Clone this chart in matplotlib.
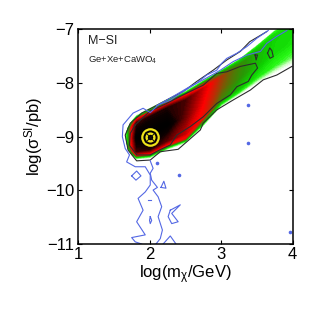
import numpy as np
import matplotlib
matplotlib.use("Agg")
import matplotlib.pyplot as plt
from matplotlib.colors import LinearSegmentedColormap

plt.rcParams['font.family'] = ['Liberation Sans', 'DejaVu Sans']
plt.rcParams['mathtext.fontset'] = 'custom'
plt.rcParams['mathtext.rm'] = 'Liberation Sans'
plt.rcParams['mathtext.it'] = 'Liberation Sans'
plt.rcParams['mathtext.default'] = 'regular'

# density band: stations along the mass axis, edges, relative density across the band
station_x = [1.66, 1.70, 1.75, 1.82, 2.0, 2.25, 2.5, 2.75, 3.0, 3.25, 3.5, 3.75, 4.0]
band_upper = [-8.97, -8.82, -8.71, -8.60, -8.47, -8.30, -8.15, -7.95, -7.76, -7.56, -7.30, -7.02, -6.80]
band_lower = [-9.00, -9.24, -9.34, -9.42, -9.40, -9.24, -9.12, -8.80, -8.43, -8.22, -8.00, -7.82, -7.64]
across = [0, .04, .09, .18, .5, .82, .91, .96, 1]
density = [
    [0, 0, 0, 0, 0, 0, 0, 0, 0],
    [0, .10, .20, .25, .25, .25, .20, .10, 0],
    [0, .14, .35, .60, .66, .60, .35, .14, 0],
    [0, .16, .58, .86, 1, .86, .58, .16, 0],
    [0, .16, .60, .90, 1, .90, .62, .16, 0],
    [0, .16, .60, .82, 1, .90, .62, .18, 0],
    [0, .14, .56, .68, .80, .85, .62, .18, 0],
    [0, .12, .30, .58, .62, .68, .50, .18, 0],
    [0, .10, .20, .36, .46, .50, .34, .18, 0],
    [0, .06, .16, .25, .34, .36, .26, .17, 0],
    [0, .04, .10, .18, .26, .27, .22, .16, 0],
    [0, .02, .06, .14, .20, .21, .19, .15, 0],
    [0, .02, .05, .12, .19, .20, .18, .14, 0],
]

outer_x = [3.64, 3.40, 3.27, 3.08, 2.89, 2.66, 2.47, 2.29, 2.05, 1.89, 1.73, 1.66, 1.70, 1.82, 2.01, 2.15, 2.40, 2.71, 2.75, 2.94, 3.17, 3.41, 3.59, 3.78, 3.99]
outer_y = [-7.04, -7.23, -7.41, -7.57, -7.76, -7.97, -8.16, -8.28, -8.45, -8.56, -8.75, -8.97, -9.25, -9.45, -9.435, -9.28, -9.235, -8.875, -8.75, -8.50, -8.315, -8.13, -7.94, -7.85, -7.69]
inner_x = [1.80, 2.00, 2.24, 2.47, 2.75, 2.94, 3.08, 3.27, 3.48, 3.51, 3.43, 3.38, 3.22, 3.13, 2.94, 2.75, 2.57, 2.38, 2.29, 2.15, 2.01, 1.82, 1.72, 1.73, 1.80]
inner_y = [-8.78, -8.53, -8.38, -8.22, -8.04, -7.82, -7.79, -7.69, -7.63, -7.72, -7.85, -7.97, -8.07, -8.22, -8.38, -8.63, -8.81, -8.97, -9.155, -9.24, -9.34, -9.34, -9.16, -8.94, -8.78]
isle1_x = [3.65, 3.68, 3.71, 3.73, 3.685, 3.65]
isle1_y = [-7.445, -7.345, -7.395, -7.507, -7.538, -7.445]
isle2_x = [3.475, 3.51, 3.49, 3.475]
isle2_y = [-7.476, -7.476, -7.57, -7.476]

blue_left_x = [3.66, 3.50, 3.36, 3.22, 3.08, 3.01, 2.94, 2.80, 2.66, 2.47, 2.29, 2.12, 2.01, 1.91, 1.77, 1.63, 1.62, 1.66, 1.72, 1.68, 1.80, 1.94, 2.01, 2.01, 1.94, 1.84, 1.91, 1.82, 1.94, 1.75, 1.80, 1.89]
blue_left_y = [-7.02, -7.165, -7.32, -7.445, -7.54, -7.63, -7.76, -7.85, -8.00, -8.16, -8.32, -8.41, -8.55, -8.47, -8.56, -8.78, -9.0, -9.22, -9.34, -9.47, -9.56, -9.56, -9.715, -9.90, -10.03, -10.15, -10.37, -10.585, -10.83, -10.88, -10.96, -11.0]
blue_right_x = [2.09, 2.15, 2.18, 2.12, 2.17, 2.12, 2.05, 2.11, 2.03, 2.01, 2.05, 2.01]
blue_right_y = [-11.0, -10.90, -10.74, -10.49, -10.305, -10.12, -9.995, -9.945, -9.81, -9.68, -9.59, -9.45]
blue_top_x = [3.92, 3.78, 3.64, 3.55, 3.36, 3.17, 2.99, 2.75, 2.52, 2.29, 2.10]
blue_top_y = [-7.02, -7.13, -7.26, -7.41, -7.48, -7.60, -7.76, -7.94, -8.10, -8.28, -8.42]
blue_lobe_x = [2.19, 2.29, 2.37]
blue_lobe_y = [-11.0, -10.85, -11.0]
blue_diamond_x = [1.75, 1.82, 1.88, 1.81, 1.75]
blue_diamond_y = [-9.73, -9.64, -9.73, -9.81, -9.73]
blue_tri_x = [2.16, 2.20, 2.23, 2.16]
blue_tri_y = [-9.945, -9.83, -9.96, -9.945]
blue_shape_x = [2.29, 2.43, 2.31, 2.40, 2.31, 2.26, 2.29]
blue_shape_y = [-10.37, -10.27, -10.43, -10.585, -10.62, -10.49, -10.37]
blue_sliver_x = [2.01, 2.03, 2.01, 2.00, 2.01]
blue_sliver_y = [-10.49, -10.56, -10.62, -10.56, -10.49]
blue_dash_x = [1.98, 2.02]
blue_dash_y = [-10.18, -10.18]
dots_x = [3.37, 3.38, 2.11, 2.41, 3.97]
dots_y = [-8.41, -9.12, -9.485, -9.715, -10.78]
best_x = [2.0]
best_y = [-9.01]

xticks = [1, 2, 3, 4]
yticks = [-11, -10, -9, -8, -7]

cmap = LinearSegmentedColormap.from_list('band', [
    (0.0, (1, 1, 1)), (0.05, (0.80, 1, 0.75)), (0.15, (0.15, 0.97, 0.08)), (0.22, (0.05, 0.82, 0)),
    (0.32, (0.15, 0.60, 0.02)), (0.42, (0.38, 0.42, 0.02)), (0.52, (0.72, 0.18, 0.02)), (0.62, (1, 0, 0)),
    (0.78, (0.50, 0, 0)), (0.93, (0.04, 0, 0)), (1.0, (0, 0, 0))])

fig = plt.figure(figsize=(3.22, 3.22), dpi=100)
ax = fig.add_axes([78 / 322, 78 / 322, 214.6 / 322, 214.6 / 322])

sx = np.array(station_x)
lo = np.array(band_lower)
hi = np.array(band_upper)
fr = np.array(across)
X = np.repeat(sx[:, None], len(fr), axis=1)
Y = lo[:, None] + (hi - lo)[:, None] * fr[None, :]
ax.contourf(X, Y, np.array(density), levels=np.linspace(0.005, 1.001, 80), cmap=cmap, vmin=0, vmax=1)

black = '#2c2c2c'
blue = '#5468e4'
for px, py in [(outer_x, outer_y), (inner_x, inner_y), (isle1_x, isle1_y), (isle2_x, isle2_y)]:
    ax.plot(px, py, color=black, lw=0.8)
for px, py in [(blue_left_x, blue_left_y), (blue_right_x, blue_right_y), (blue_top_x, blue_top_y),
               (blue_lobe_x, blue_lobe_y), (blue_diamond_x, blue_diamond_y), (blue_tri_x, blue_tri_y),
               (blue_shape_x, blue_shape_y), (blue_sliver_x, blue_sliver_y), (blue_dash_x, blue_dash_y)]:
    ax.plot(px, py, color=blue, lw=0.8)
ax.plot(dots_x, dots_y, 'o', ms=2.6, mfc='#5468e4', mec='none', clip_on=False)

ax.plot(best_x, best_y, 'o', ms=11.8, mfc='none', mec='#f0e41a', mew=1.6)
ax.plot(best_x, best_y, 'o', ms=5.6, mfc='none', mec='#f0e41a', mew=1.7)
ax.plot(best_x, best_y, 'x', ms=7.5, mec='#111111', mew=0.7)

ax.set_xlim(1, 4)
ax.set_ylim(-11, -7)
ax.set_xticks(xticks)
ax.set_yticks(yticks)
ax.set_xticklabels([str(t) for t in xticks])
ax.set_yticklabels(['\u2212%d' % abs(t) for t in yticks])
ax.tick_params(direction='in', top=True, right=True, length=3, width=0.8, labelsize=12, pad=2.5)
for s in ax.spines.values():
    s.set_linewidth(1.1)
ax.set_xlabel(r'log(m$_{\chi}$/GeV)', fontsize=12, labelpad=1)
ax.set_ylabel(r'log($\sigma^{SI}$/pb)', fontsize=12, labelpad=1)
ax.text(0.045, 0.945, 'M\u2212SI', transform=ax.transAxes, fontsize=9, va='center', color='#222222')
ax.text(0.045, 0.855, 'Ge+Xe+CaWO$_{4}$', transform=ax.transAxes, fontsize=6.8, va='center', color='#222222')

fig.savefig('out.png', dpi=100)
